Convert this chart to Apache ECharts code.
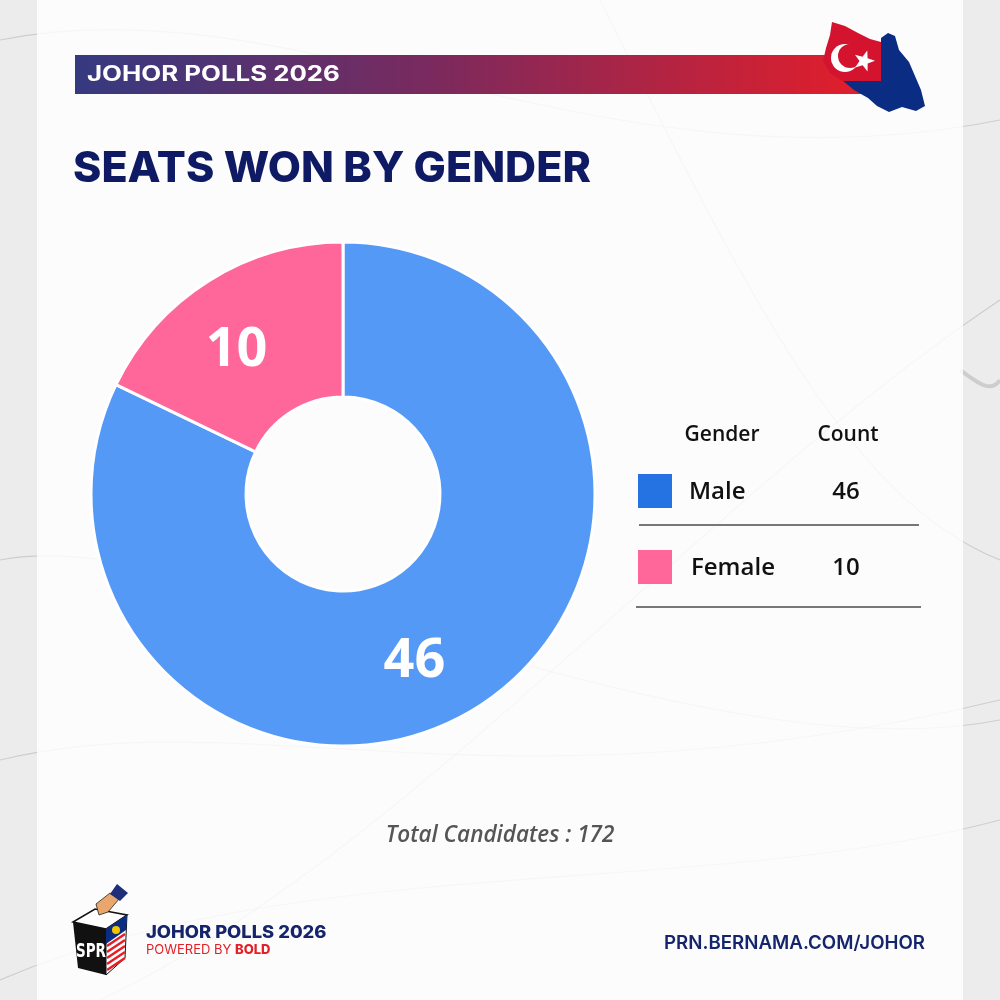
<!DOCTYPE html>
<html>
<head>
<meta charset="utf-8">
<script src="https://cdn.jsdelivr.net/npm/echarts@6/dist/echarts.min.js"></script>
<style>
html,body{margin:0;padding:0;background:#ececec;}
#c{width:1000px;height:1000px;}
</style>
</head>
<body>
<div id="c"></div>
<script>
// ---- data ----
const categories = ['Male', 'Female'];
const values = [46, 10];
const sliceColors = ['#5599F6', '#FF6699'];
const legendColors = ['#2573E3', '#FF6699'];
const tableHeaders = ['Gender', 'Count'];
const titleText = 'SEATS WON BY GENDER';
const bannerText = 'JOHOR POLLS 2026';
const totalText = 'Total Candidates : 172';
const footerUrl = 'PRN.BERNAMA.COM/JOHOR';

const chart = echarts.init(document.getElementById('c'), null, {renderer: 'canvas'});

function starPoints(cx, cy, R, r, rot) {
  const pts = [];
  for (let i = 0; i < 10; i++) {
    const a = rot + i * Math.PI / 5;
    const rad = i % 2 === 0 ? R : r;
    pts.push([cx + rad * Math.sin(a), cy - rad * Math.cos(a)]);
  }
  return pts;
}

const graphics = [];
// background swooshes
const swoosh = [
  [[0,40],[300,-20],[600,200],[1000,120]],
  [[0,760],[250,700],[500,820],[1000,700]],
  [[0,980],[300,850],[700,900],[1000,820]],
  [[600,0],[750,300],[850,500],[1000,560]],
  [[960,370],[975,380],[990,395],[1000,380]],
  [[0,560],[200,520],[700,780],[1000,720]],
  [[100,1000],[400,860],[700,500],[1000,300]],
];
swoosh.forEach((s, i) => {
  graphics.push({type: 'bezierCurve', silent: true, z: 0,
    shape: {x1: s[0][0], y1: s[0][1], cpx1: s[1][0], cpy1: s[1][1], cpx2: s[2][0], cpy2: s[2][1], x2: s[3][0], y2: s[3][1]},
    style: {stroke: 'rgba(0,0,0,0.13)', lineWidth: i === 4 ? 4 : 1.2, fill: null}});
});
// white panel
graphics.push({type: 'rect', silent: true, z: 1, shape: {x: 37, y: 0, width: 926, height: 1000},
  style: {fill: 'rgba(255,255,255,0.82)'}});

// header banner
graphics.push({type: 'rect', z: 5, shape: {x: 75, y: 55, width: 790, height: 39},
  style: {fill: new echarts.graphic.LinearGradient(0, 0, 1, 0, [
    {offset: 0, color: '#353A80'}, {offset: 0.45, color: '#7A2A5E'}, {offset: 1, color: '#E31E2A'}])}});
graphics.push({type: 'text', z: 6, x: 87, y: 75, scaleX: 1.23, originX: 0, originY: 0,
  style: {text: bannerText, x: 0, y: 0, verticalAlign: 'middle', fill: '#fff', font: '700 21px Inter'}});

// Johor map
graphics.push({type: 'polygon', z: 7, shape: {points: [[842,80],[881,80],[881,38],[888,33],[895,36],[899,50],[909,62],[915,76],[921,90],[925,106],[916,111],[902,107],[889,112],[877,106],[868,98],[854,90]]},
  style: {fill: '#0B2C83'}});
graphics.push({type: 'polygon', z: 8, shape: {points: [[832,22],[845,26],[858,33],[870,39],[881,42],[881,81],[842,81],[830,73],[823,61],[826,48],[830,35]]},
  style: {fill: '#D4142F'}});
graphics.push({type: 'circle', z: 9, shape: {cx: 845, cy: 58, r: 14}, style: {fill: '#fff'}});
graphics.push({type: 'circle', z: 10, shape: {cx: 850, cy: 56, r: 12}, style: {fill: '#D4142F'}});
graphics.push({type: 'polygon', z: 11, shape: {points: starPoints(864, 61, 11, 4.5, 0.3)}, style: {fill: '#fff'}});

// title
graphics.push({type: 'text', z: 5, style: {text: titleText, x: 73, y: 169, verticalAlign: 'middle',
  fill: '#0E1A63', font: '800 43px Inter'}});

// legend table
const colX = [722, 848];
tableHeaders.forEach((h, i) => {
  graphics.push({type: 'text', z: 5, style: {text: h, x: colX[i], y: 435, align: 'center', verticalAlign: 'middle',
    fill: '#111', font: '600 21px "Open Sans"'}});
});
categories.forEach((c, i) => {
  const y = 491 + i * 76;
  graphics.push({type: 'rect', z: 5, shape: {x: 638, y: y - 17, width: 34, height: 34}, style: {fill: legendColors[i]}});
  graphics.push({type: 'text', z: 5, style: {text: c, x: 689 + i * 2, y: y + 1, verticalAlign: 'middle',
    fill: '#111', font: '600 24px "Open Sans"'}});
  graphics.push({type: 'text', z: 5, style: {text: String(values[i]), x: colX[1] - 2, y: y + 1, align: 'center', verticalAlign: 'middle',
    fill: '#111', font: '600 24px "Open Sans"'}});
  graphics.push({type: 'line', z: 5, shape: {x1: 639 - i * 3, y1: y + 34 + i * 6, x2: 919 + i * 2, y2: y + 34 + i * 6},
    style: {stroke: '#777', lineWidth: 2}});
});

// total
graphics.push({type: 'text', z: 5, style: {text: totalText, x: 500, y: 836, align: 'center', verticalAlign: 'middle',
  fill: '#555', font: 'italic 600 22.5px "Open Sans"'}});

// footer logo (ballot box)
graphics.push({type: 'polygon', z: 5, shape: {points: [[73,922],[106,929],[127,915],[95,909]]}, style: {fill: '#fff', stroke: '#111', lineWidth: 1.5}});
graphics.push({type: 'polygon', z: 5, shape: {points: [[73,922],[106,929],[106,975],[78,968]]}, style: {fill: '#111'}});
graphics.push({type: 'polygon', z: 5, shape: {points: [[106,929],[127,915],[125,958],[106,975]]}, style: {fill: '#fff', stroke: '#111', lineWidth: 1}});
for (let k = 0; k < 6; k++) {
  graphics.push({type: 'line', z: 6, shape: {x1: 107, y1: 940 + k * 6, x2: 125, y2: 928 + k * 6}, style: {stroke: '#E31E24', lineWidth: 2.5}});
}
graphics.push({type: 'polygon', z: 6, shape: {points: [[106,929],[127,915],[126,930],[106,944]]}, style: {fill: '#0B2C83'}});
graphics.push({type: 'circle', z: 7, shape: {cx: 116, cy: 930, r: 4}, style: {fill: '#F5C400'}});
graphics.push({type: 'polygon', z: 6, shape: {points: [[96,904],[110,893],[119,899],[108,912],[99,915]]}, style: {fill: '#E9A66D', stroke: '#222', lineWidth: 0.8}});
graphics.push({type: 'polygon', z: 6, shape: {points: [[110,894],[117,884],[128,893],[120,901]]}, style: {fill: '#1E2E7A'}});
graphics.push({type: 'text', z: 7, x: 91, y: 952, scaleX: 0.75, originX: 0, originY: 0,
  style: {text: 'SPR', x: 0, y: 0, align: 'center', verticalAlign: 'middle', fill: '#fff', font: '700 20px "DejaVu Sans Condensed"'}});

graphics.push({type: 'text', z: 5, x: 146, y: 933, scaleX: 1.08, originX: 0, originY: 0,
  style: {text: 'JOHOR POLLS 2026', x: 0, y: 0, verticalAlign: 'middle', fill: '#14256B', font: '800 17px Inter'}});
graphics.push({type: 'text', z: 5, style: {rich: {a: {fill: '#E31E24', font: '400 13px Inter'}, b: {fill: '#E31E24', font: '800 13px Inter'}},
  text: '{a|POWERED BY }{b|BOLD}', x: 146, y: 950, verticalAlign: 'middle'}});
graphics.push({type: 'text', z: 5, style: {text: footerUrl, x: 925, y: 943, align: 'right', verticalAlign: 'middle', fill: '#14256B', font: '600 18.7px Inter'}});

const labelOffsets = [[-23, 17], [-12, 7]];

chart.setOption({
  backgroundColor: '#ececec',
  animation: false,
  graphic: graphics,
  series: [{
    type: 'pie',
    z: 4,
    center: [343, 494],
    radius: [97, 252],
    startAngle: 90,
    clockwise: true,
    silent: true,
    itemStyle: {borderColor: '#fff', borderWidth: 3},
    label: {show: true, position: 'inside', color: '#fff', fontSize: 54, fontWeight: 700, fontFamily: 'Open Sans',
      formatter: p => p.value},
    labelLine: {show: false},
    data: categories.map((c, i) => ({name: c, value: values[i], itemStyle: {color: sliceColors[i]},
      label: {offset: labelOffsets[i]}}))
  }]
});
</script>
</body>
</html>
